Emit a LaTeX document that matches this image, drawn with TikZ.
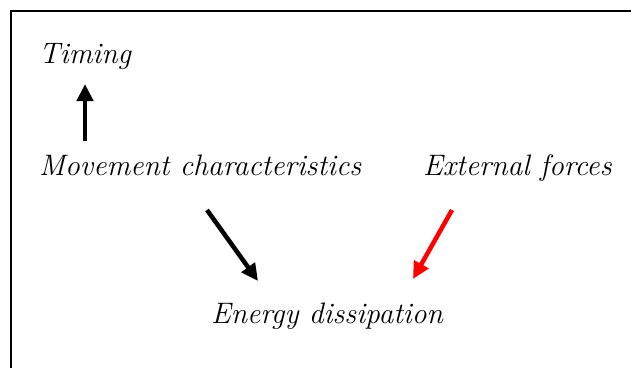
\documentclass[tikz,border=0pt]{standalone}
\usepackage{fontspec}
\usetikzlibrary{arrows.meta}
\begin{document}
\begin{tikzpicture}[x=1pt,y=1pt,
  lbl/.style={anchor=base west,inner sep=0pt,font=\fontsize{29.6}{35}\selectfont\itshape},
  fat/.style={line width=4.5pt,-{Triangle[length=17pt,width=16pt]}}]
\useasboundingbox (0,0) rectangle (631,368);
\draw[line width=1.5pt] (11,0) -- (11,357) -- (631,357);
\node[lbl] (timing) at (39,305) {Timing};
\node[lbl] (move) at (39,193) {Movement characteristics};
\node[lbl] (ext) at (423,193) {External forces};
\node[lbl] (energy) at (211,45) {Energy dissipation};
\coordinate (a1s) at (85,227);
\coordinate (a1e) at (85,284);
\coordinate (a2s) at (207,158);
\coordinate (a2e) at (258,87);
\coordinate (a3s) at (452,158);
\coordinate (a3e) at (413,89);
\draw[fat] (a1s) -- (a1e);
\draw[fat] (a2s) -- (a2e);
\draw[fat,red] (a3s) -- (a3e);
\end{tikzpicture}
\end{document}
